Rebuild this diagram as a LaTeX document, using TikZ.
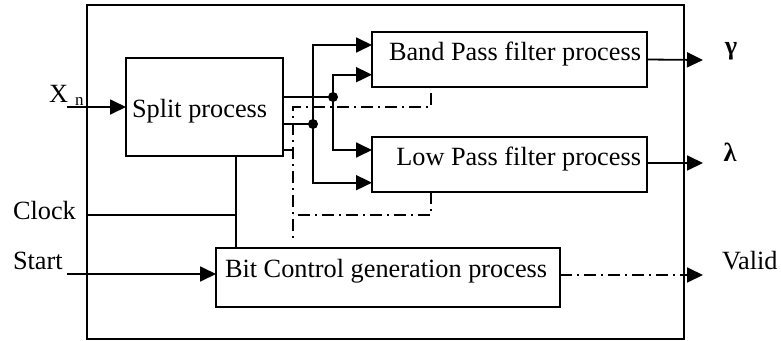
\documentclass[tikz,border=0pt]{standalone}
\usepackage{fontspec}
\setmainfont{Liberation Serif}
\usetikzlibrary{arrows.meta}
\begin{document}
\begin{tikzpicture}[x=1pt,y=-1pt,
  every node/.style={font=\fontsize{26.3}{30}\selectfont},
  box/.style={draw,line width=1.8pt,inner sep=0pt,outer sep=0pt,rectangle,anchor=north west},
  lbl/.style={inner sep=0pt,outer sep=0pt,anchor=base west},
  wire/.style={line width=1.8pt},
  arr/.style={line width=1.8pt,-{Triangle[length=16pt,width=15pt]}},
  dd/.style={line width=1.8pt,dash pattern=on 12pt off 5pt on 2pt off 5pt},
  jdot/.style={circle,fill,inner sep=0pt,minimum size=10pt}]
\useasboundingbox (0,0) rectangle (781,340);
% outer frame
\node[box,minimum width=597pt,minimum height=334pt] (outer) at (87,5) {};
% process boxes
\node[box,minimum width=157pt,minimum height=98pt] (split) at (126,58) {};
\node[box,minimum width=275pt,minimum height=55pt] (bp) at (372,32) {};
\node[box,minimum width=275pt,minimum height=55pt] (lp) at (372,137) {};
\node[box,minimum width=344pt,minimum height=59pt] (bit) at (216,248) {};
% box texts
\node[lbl] (splitt) at (132,117) {Split process};
\node[lbl,anchor=base east] (bpt) at (641,60) {Band Pass filter process};
\node[lbl,anchor=base east] (lpt) at (641,165) {Low Pass filter process};
\node[lbl] (bitt) at (225,277) {Bit Control generation process};
% outer labels
\node[lbl] (xn) at (49,102) {X};
\node[lbl,font=\fontsize{17}{20}\selectfont] (xnsub) at (75,105) {n};
\node[lbl] (clock) at (13,219) {Clock};
\node[lbl] (start) at (13,269) {Start};
\node[lbl] (valid) at (722,269) {Valid};
\node[inner sep=0pt,font=\fontsize{26.3}{30}\selectfont\bfseries] (gam) at (731,51) {γ};
\node[inner sep=0pt,font=\fontsize{26.3}{30}\selectfont\bfseries] (lam) at (730,152) {λ};
% coordinates
\coordinate (xS) at (67,107);
\coordinate (sS) at (67,274);
\coordinate (clkJ) at (236,215);
\coordinate (dA) at (333,97);
\coordinate (dB) at (313,124);
\coordinate (dS) at (293,150);
\coordinate (ddT) at (431,93);
\coordinate (ddA) at (431,107);
\coordinate (ddB) at (293,107);
\coordinate (ddC) at (293,240);
\coordinate (ddD) at (431,215);
\coordinate (ddE) at (293,215);
\coordinate (gE) at (703,60);
\coordinate (lE) at (703,163);
\coordinate (vE) at (703,275);
% inputs
\draw[arr] (xS) -- (xS -| split.west);
\draw[arr] (sS) -- (sS -| bit.west);
\draw[wire] (outer.west |- clkJ) -- (clkJ);
\draw[wire] (split.south -| clkJ) -- (bit.north -| clkJ);
% split outputs
\draw[wire] (split.east |- dA) -- (dA);
\draw[wire] (split.east |- dB) -- (dB);
\draw[wire] (split.east |- dS) -- (dS);
\node[jdot] (jA) at (dA) {};
\node[jdot] (jB) at (dB) {};
\draw[arr] (dA) |- ([yshift=-15.2pt]bp.west);
\draw[arr] (dA) |- ([yshift=14.5pt]lp.west);
\draw[arr] (dB) |- ([yshift=14.5pt]bp.west);
\draw[arr] (dB) |- ([yshift=-18.2pt]lp.west);
% control (dash-dot)
\draw[dd] (ddT) -- (ddA) -- (ddB) -- (ddC);
\draw[dd] (lp.south -| ddD) -- (ddD) -- (ddE);
% outputs
\draw[arr] (bp.east) -- (gE);
\draw[arr] (lp.east |- lE) -- (lE);
\draw[arr,dash pattern=on 12pt off 5pt on 2pt off 5pt] (bit.east |- vE) -- (vE);
\end{tikzpicture}
\end{document}
